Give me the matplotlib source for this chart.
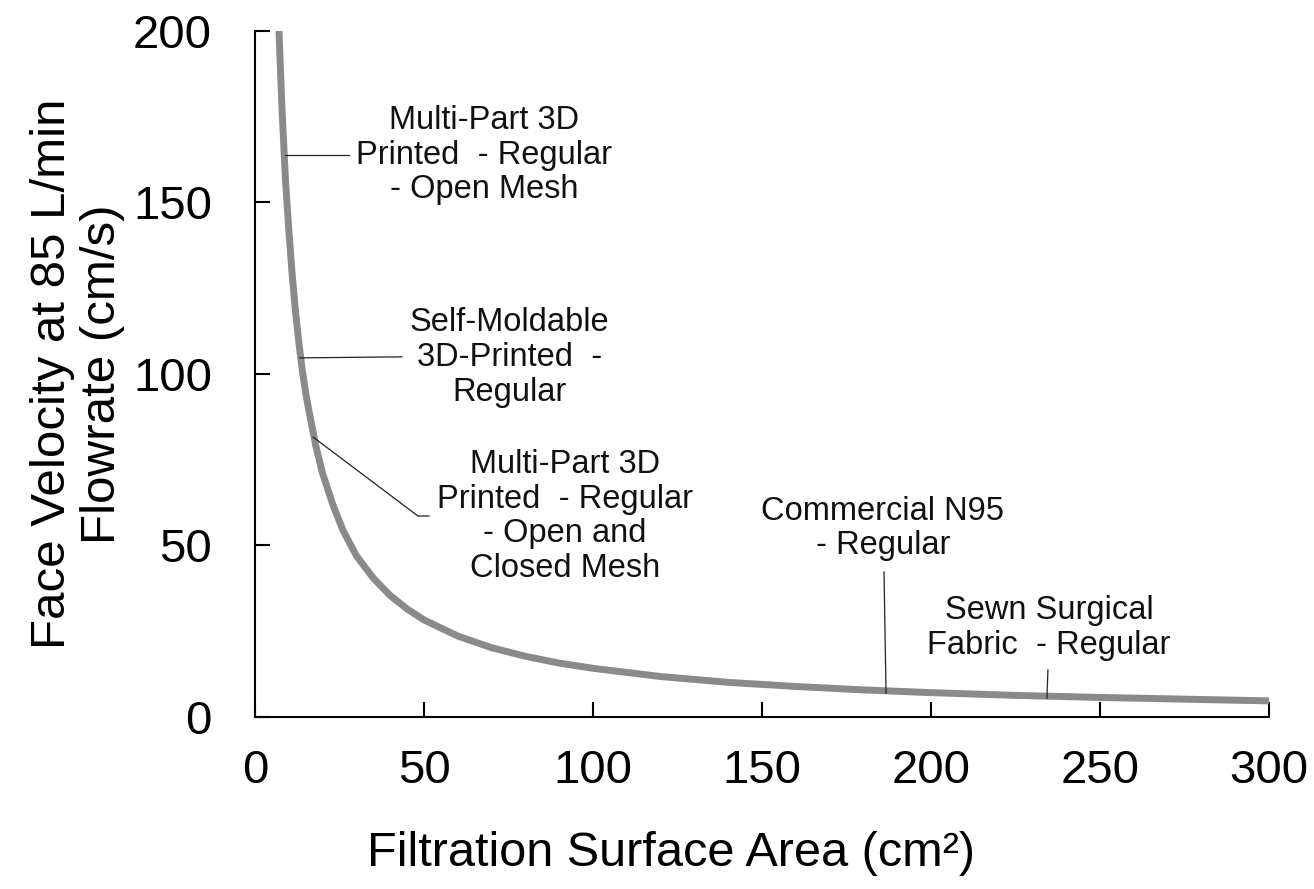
import matplotlib
matplotlib.use("Agg")
import matplotlib.pyplot as plt

plt.rcParams['font.family'] = ['Liberation Sans', 'DejaVu Sans']

# face velocity curve
area = [7.1, 8, 9, 10, 11, 12, 13, 14, 15, 16, 18, 20, 23, 26, 30, 35, 40, 45, 50,
        60, 70, 80, 90, 100, 120, 140, 160, 180, 200, 225, 250, 275, 300]
velocity = [200, 177, 157, 142, 129, 118, 109, 101, 94.5, 89, 79, 71, 62, 54.5, 47,
            40.5, 35.4, 31.5, 28.3, 23.6, 20.2, 17.7, 15.7, 14.2, 11.8, 10.1,
            8.9, 7.9, 7.1, 6.3, 5.7, 5.2, 4.7]

labels = [
    "Multi-Part 3D\nPrinted  - Regular\n- Open Mesh",
    "Self-Moldable\n3D-Printed  -\nRegular",
    "Multi-Part 3D\nPrinted  - Regular\n- Open and\nClosed Mesh",
    "Commercial N95\n- Regular",
    "Sewn Surgical\nFabric  - Regular",
]
label_x = [67.8, 75.4, 91.7, 185.8, 234.9]
label_y = [163.8, 104.8, 58.5, 55.0, 25.9]

leader_x = [[8.9, 27.8], [13.3, 43.5], [17.2, 48.2, 51.5], [186.1, 186.7], [234.6, 234.3]]
leader_y = [[163.8, 163.8], [104.7, 105.0], [81.6, 58.6, 58.6], [42.3, 7.0], [13.7, 5.5]]

xticks = [0, 50, 100, 150, 200, 250, 300]
yticks = [0, 50, 100, 150, 200]


def main() -> None:
    fig = plt.figure(figsize=(13.14, 8.89), dpi=100)
    ax = fig.add_axes([0.19406, 0.19348, 0.77169, 0.77165])

    ax.plot(area, velocity, color='#8a8a8a', lw=5, solid_capstyle='butt', zorder=3)

    for lx, ly in zip(leader_x, leader_y):
        ax.plot(lx, ly, color='#222222', lw=0.9, zorder=4)

    for text, x, y in zip(labels, label_x, label_y):
        ax.text(x, y, text, ha='center', va='center', multialignment='center',
                fontsize=23.5, color='#111111', linespacing=1.15)

    ax.set_xlim(0, 300)
    ax.set_ylim(0, 200)
    ax.set_xticks(xticks)
    ax.set_yticks(yticks)

    for side in ['top', 'right']:
        ax.spines[side].set_visible(False)
    for side in ['left', 'bottom']:
        ax.spines[side].set_linewidth(1.5)

    ax.tick_params(axis='both', direction='in', length=11, width=1.5, labelsize=34)
    ax.tick_params(axis='y', pad=31)
    ax.tick_params(axis='x', pad=23)

    ax.set_xlabel('Filtration Surface Area (cm²)', fontsize=35)
    ax.xaxis.set_label_coords(0.41, -0.166)
    ax.set_ylabel('Face Velocity at 85 L/min\nFlowrate (cm/s)', fontsize=35.5, linespacing=1.15)
    ax.yaxis.set_label_coords(-0.128, 0.5)

    fig.savefig('out.png', dpi=100)
    plt.close(fig)


if __name__ == '__main__':
    main()
